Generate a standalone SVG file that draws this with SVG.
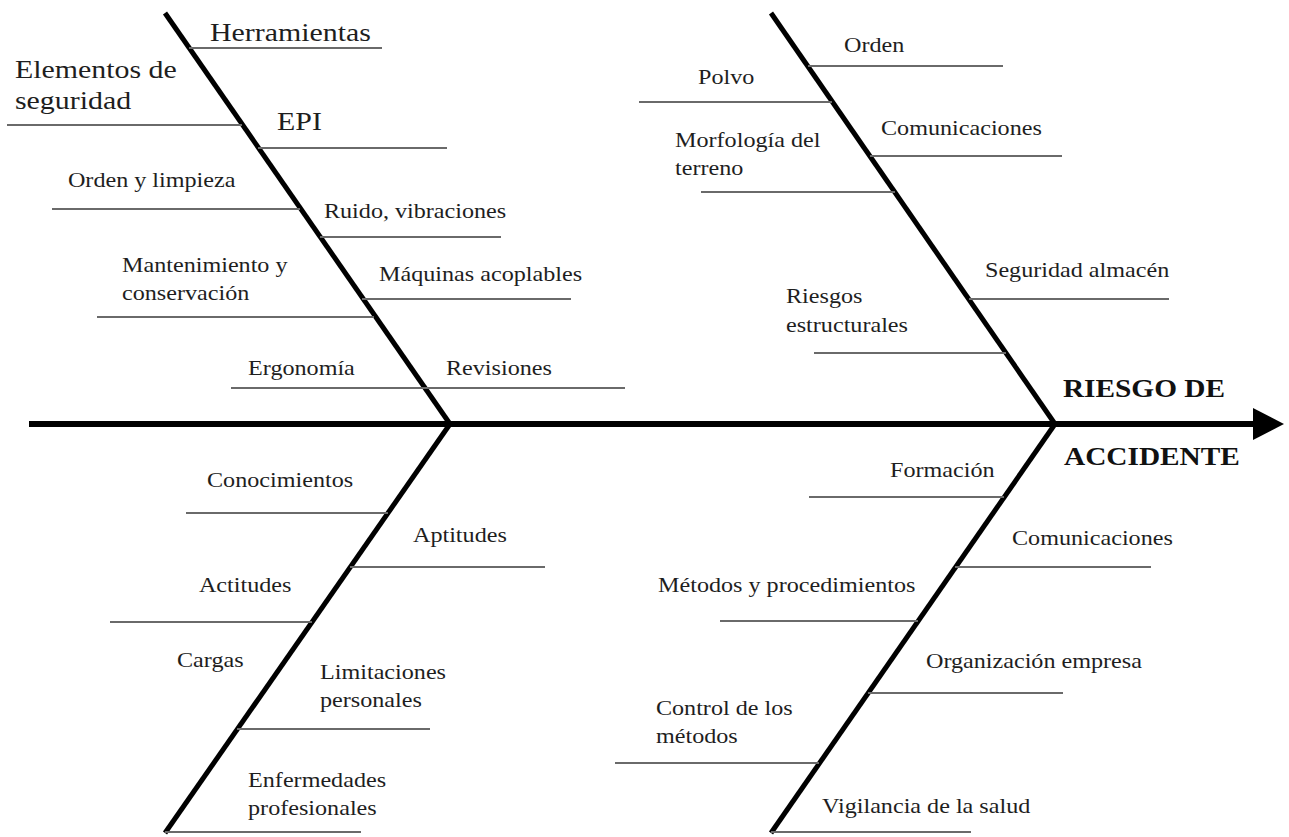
<svg xmlns="http://www.w3.org/2000/svg" width="1289" height="837" viewBox="0 0 1289 837">
<style>
.ul{stroke:#6a6a6a;stroke-width:2.2;fill:none}
.bone{stroke:#000;stroke-width:5;fill:none}
.spine{stroke:#000;stroke-width:6;fill:none}
</style>
<rect width="1289" height="837" fill="#fff"/>
<g id="connectors">
<line class="spine" x1="29" y1="424" x2="1256" y2="424"/>
<polygon points="1253,408 1284,424 1253,440" fill="#000"/>
<line class="bone" x1="165" y1="13" x2="450" y2="424"/>
<line class="bone" x1="771" y1="13" x2="1055" y2="424"/>
<line class="bone" x1="450" y1="424" x2="165" y2="833"/>
<line class="bone" x1="1055" y1="424" x2="771" y2="833"/>
</g>
<g font-family="Liberation Serif, serif" font-size="21" fill="#1e1e1e">
<g id="herramientas"><line class="ul" x1="189" y1="48" x2="382" y2="48"/><text transform="scale(1.15 1)" font-size="26" x="182.6" y="41">Herramientas</text></g>
<g id="elementos"><line class="ul" x1="7" y1="125" x2="242" y2="125"/><text transform="scale(1.15 1)" font-size="26" x="13" y="78">Elementos de</text><text transform="scale(1.15 1)" font-size="26" x="13" y="109">seguridad</text></g>
<g id="epi"><line class="ul" x1="258" y1="148" x2="447" y2="148"/><text transform="scale(1.15 1)" font-size="26" x="240.9" y="130">EPI</text></g>
<g id="orden-limpieza"><line class="ul" x1="52" y1="209" x2="300" y2="209"/><text transform="scale(1.15 1)" x="59.1" y="187">Orden y limpieza</text></g>
<g id="ruido"><line class="ul" x1="320" y1="237" x2="501" y2="237"/><text transform="scale(1.15 1)" x="281.7" y="218">Ruido, vibraciones</text></g>
<g id="mantenimiento"><line class="ul" x1="97" y1="317" x2="374" y2="317"/><text transform="scale(1.15 1)" x="106.1" y="272">Mantenimiento y</text><text transform="scale(1.15 1)" x="106.1" y="300">conservación</text></g>
<g id="maquinas"><line class="ul" x1="362" y1="299" x2="571" y2="299"/><text transform="scale(1.15 1)" x="329.6" y="281">Máquinas acoplables</text></g>
<g id="ergonomia"><line class="ul" x1="231" y1="388" x2="425" y2="388"/><text transform="scale(1.15 1)" x="215.7" y="375">Ergonomía</text></g>
<g id="revisiones"><line class="ul" x1="425" y1="388" x2="625" y2="388"/><text transform="scale(1.15 1)" x="387.8" y="375">Revisiones</text></g>
<g id="orden"><line class="ul" x1="808" y1="66" x2="1003" y2="66"/><text transform="scale(1.15 1)" x="733.9" y="52">Orden</text></g>
<g id="polvo"><line class="ul" x1="639" y1="102" x2="832" y2="102"/><text transform="scale(1.15 1)" x="607" y="84">Polvo</text></g>
<g id="comunicaciones-1"><line class="ul" x1="870" y1="156" x2="1062" y2="156"/><text transform="scale(1.15 1)" x="766.1" y="135">Comunicaciones</text></g>
<g id="morfologia"><line class="ul" x1="701" y1="192" x2="895" y2="192"/><text transform="scale(1.15 1)" x="587" y="147">Morfología del</text><text transform="scale(1.15 1)" x="587" y="175">terreno</text></g>
<g id="seguridad-almacen"><line class="ul" x1="969" y1="299" x2="1169" y2="299"/><text transform="scale(1.15 1)" x="856.5" y="277">Seguridad almacén</text></g>
<g id="riesgos"><line class="ul" x1="814" y1="353" x2="1006" y2="353"/><text transform="scale(1.15 1)" x="683.5" y="303">Riesgos</text><text transform="scale(1.15 1)" x="683.5" y="332">estructurales</text></g>
<g id="resultado"><text transform="scale(1.15 1)" font-size="25.5" font-weight="bold" fill="#111" x="924.3" y="397">RIESGO DE</text><text transform="scale(1.15 1)" font-size="25.5" font-weight="bold" fill="#111" x="925.2" y="465">ACCIDENTE</text></g>
<g id="conocimientos"><line class="ul" x1="186" y1="513" x2="388" y2="513"/><text transform="scale(1.15 1)" x="180" y="487">Conocimientos</text></g>
<g id="aptitudes"><line class="ul" x1="350" y1="567" x2="545" y2="567"/><text transform="scale(1.15 1)" x="359.1" y="542">Aptitudes</text></g>
<g id="actitudes"><line class="ul" x1="110" y1="622" x2="312" y2="622"/><text transform="scale(1.15 1)" x="173" y="592">Actitudes</text></g>
<g id="cargas"><text transform="scale(1.15 1)" x="153.9" y="667">Cargas</text></g>
<g id="limitaciones"><line class="ul" x1="237" y1="729" x2="430" y2="729"/><text transform="scale(1.15 1)" x="278.3" y="679">Limitaciones</text><text transform="scale(1.15 1)" x="278.3" y="707">personales</text></g>
<g id="enfermedades"><line class="ul" x1="165" y1="832" x2="361" y2="832"/><text transform="scale(1.15 1)" x="215.7" y="787">Enfermedades</text><text transform="scale(1.15 1)" x="215.7" y="815">profesionales</text></g>
<g id="formacion"><line class="ul" x1="809" y1="497" x2="1004" y2="497"/><text transform="scale(1.15 1)" x="773.9" y="477">Formación</text></g>
<g id="comunicaciones-2"><line class="ul" x1="955" y1="567" x2="1151" y2="567"/><text transform="scale(1.15 1)" x="880" y="545">Comunicaciones</text></g>
<g id="metodos"><line class="ul" x1="720" y1="621" x2="918" y2="621"/><text transform="scale(1.15 1)" x="572.2" y="592">Métodos y procedimientos</text></g>
<g id="organizacion"><line class="ul" x1="868" y1="693" x2="1063" y2="693"/><text transform="scale(1.15 1)" x="805.2" y="668">Organización empresa</text></g>
<g id="control"><line class="ul" x1="615" y1="763" x2="819" y2="763"/><text transform="scale(1.15 1)" x="570.4" y="715">Control de los</text><text transform="scale(1.15 1)" x="570.4" y="743">métodos</text></g>
<g id="vigilancia"><line class="ul" x1="771" y1="832" x2="971" y2="832"/><text transform="scale(1.15 1)" x="714.8" y="813">Vigilancia de la salud</text></g>
</g>
</svg>
